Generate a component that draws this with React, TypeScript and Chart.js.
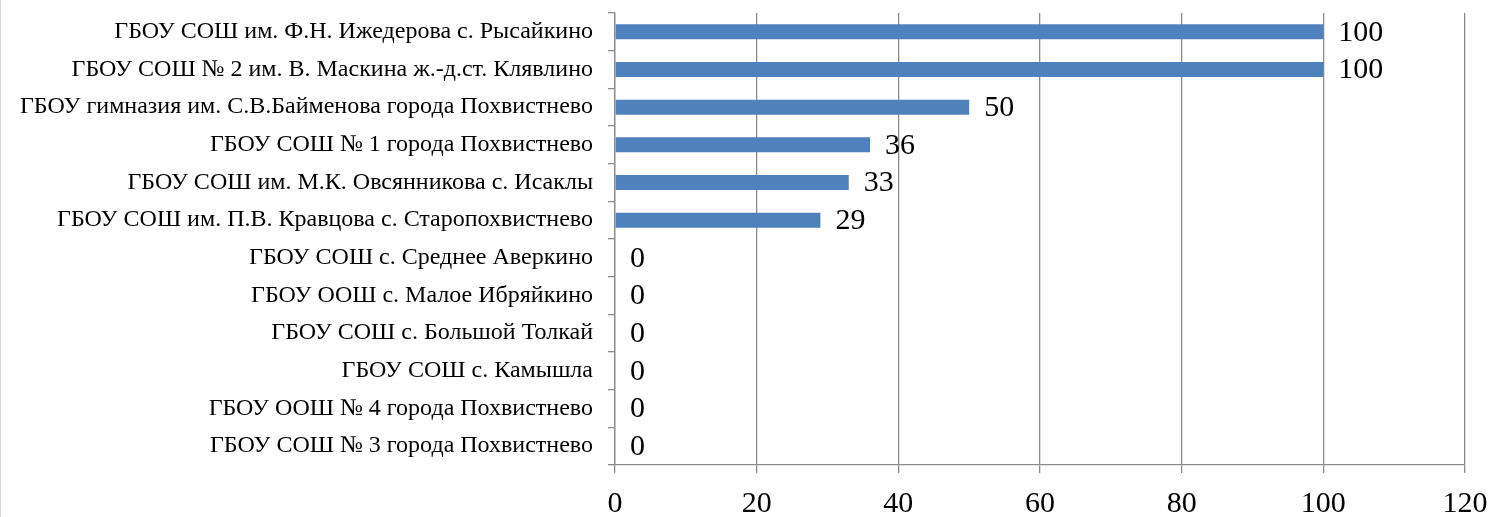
import React, { useEffect, useRef } from "react";
import { Chart, registerables } from "chart.js";

Chart.register(...registerables);

const categories: string[] = [
  "ГБОУ СОШ им. Ф.Н. Ижедерова с. Рысайкино",
  "ГБОУ СОШ № 2 им. В. Маскина ж.-д.ст. Клявлино",
  "ГБОУ гимназия им. С.В.Байменова города Похвистнево",
  "ГБОУ СОШ № 1 города Похвистнево",
  "ГБОУ СОШ им. М.К. Овсянникова с. Исаклы",
  "ГБОУ СОШ им. П.В. Кравцова с. Старопохвистнево",
  "ГБОУ СОШ с. Среднее Аверкино",
  "ГБОУ ООШ с. Малое Ибряйкино",
  "ГБОУ СОШ с. Большой Толкай",
  "ГБОУ СОШ с. Камышла",
  "ГБОУ ООШ № 4 города Похвистнево",
  "ГБОУ СОШ № 3 города Похвистнево",
];

const values: number[] = [100, 100, 50, 36, 33, 29, 0, 0, 0, 0, 0, 0];

const xMin = 0;
const xMax = 120;
const xStep = 20;

const FONT = "'Liberation Serif', 'Times New Roman', serif";

const dataLabelPlugin = {
  id: "dataLabels",
  afterDatasetsDraw(chart: any) {
    const ctx = chart.ctx;
    const meta = chart.getDatasetMeta(0);
    const ds = chart.data.datasets[0];
    ctx.save();
    ctx.font = `30px ${FONT}`;
    ctx.fillStyle = "#000000";
    ctx.textAlign = "left";
    ctx.textBaseline = "middle";
    meta.data.forEach((bar: any, i: number) => {
      ctx.fillText(String(ds.data[i]), bar.x + 15, bar.y + 1);
    });
    ctx.restore();
  },
};

export default function App() {
  const ref = useRef<HTMLCanvasElement | null>(null);

  useEffect(() => {
    document.body.style.margin = "0";
    if (!ref.current) return;
    const chart = new Chart(ref.current, {
      type: "bar",
      data: {
        labels: categories,
        datasets: [
          {
            data: values,
            backgroundColor: "#4F81BD",
            borderWidth: 0,
            categoryPercentage: 1,
            barPercentage: 0.4,
          },
        ],
      },
      options: {
        indexAxis: "y",
        animation: false,
        responsive: false,
        maintainAspectRatio: false,
        layout: { padding: { top: 13, right: 31, left: 0, bottom: 0 } },
        plugins: {
          legend: { display: false },
          tooltip: { enabled: false },
        },
        scales: {
          x: {
            min: xMin,
            max: xMax,
            ticks: {
              stepSize: xStep,
              font: { family: FONT, size: 30 },
              color: "#000000",
              padding: 13,
              maxRotation: 0,
            },
            grid: {
              color: "#8c8c8c",
              lineWidth: 1.3,
              drawTicks: true,
              tickLength: 8,
            },
            border: { display: true, color: "#8c8c8c", width: 1.3 },
            afterFit: (scale: any) => {
              scale.height = 52;
              scale.paddingLeft = 0;
              scale.paddingRight = 0;
            },
          },
          y: {
            ticks: {
              font: { family: FONT, size: 24 },
              color: "#000000",
              padding: 15,
              autoSkip: false,
            },
            grid: {
              offset: true,
              drawOnChartArea: false,
              drawTicks: true,
              tickLength: 7,
              color: "#8c8c8c",
              lineWidth: 1.3,
            },
            border: { display: true, color: "#8c8c8c", width: 1.3 },
            afterFit: (scale: any) => {
              scale.width = 614;
              scale.paddingTop = 0;
              scale.paddingBottom = 0;
            },
          },
        },
      },
      plugins: [dataLabelPlugin],
    });
    return () => chart.destroy();
  }, []);

  return (
    <div style={{ position: "fixed", left: 0, top: 0, width: 1496, height: 517, borderLeft: "1px solid #d9d9d9", boxSizing: "border-box", background: "#fff" }}>
      <canvas ref={ref} width={1495} height={517} style={{ display: "block" }} />
    </div>
  );
}
